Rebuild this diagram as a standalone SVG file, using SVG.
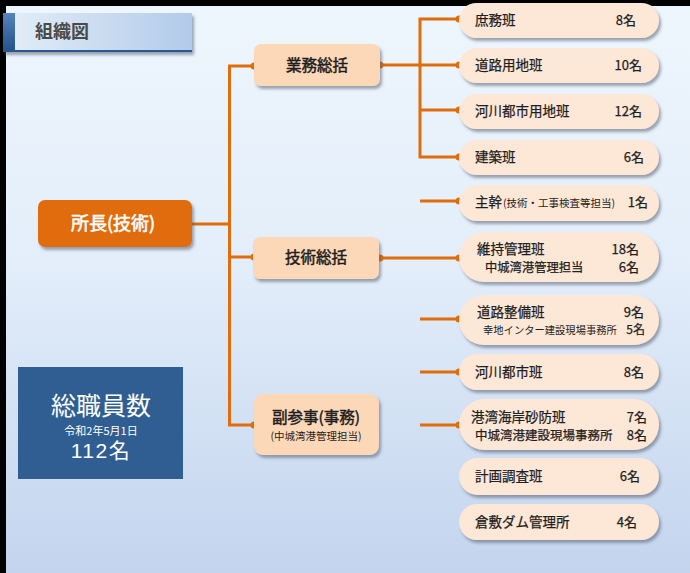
<svg xmlns="http://www.w3.org/2000/svg" width="690" height="573" viewBox="0 0 690 573">
<defs>
<linearGradient id="bg" x1="0" y1="0" x2="0" y2="1">
<stop offset="0" stop-color="#eef6fd"/>
<stop offset="0.45" stop-color="#e3eefa"/>
<stop offset="1" stop-color="#c3d4ee"/>
</linearGradient>
<linearGradient id="tg" x1="0" y1="0" x2="1" y2="0">
<stop offset="0" stop-color="#e4eef8"/>
<stop offset="1" stop-color="#b2cbea"/>
</linearGradient>
<linearGradient id="ts" x1="0" y1="0" x2="0" y2="1">
<stop offset="0" stop-color="#5583bd"/>
<stop offset="1" stop-color="#24508a"/>
</linearGradient>
<filter id="sh" x="-10%" y="-20%" width="125%" height="150%">
<feDropShadow dx="2" dy="3" stdDeviation="1.8" flood-color="#556070" flood-opacity="0.55"/>
</filter>
</defs>
<style>
.pill{fill:#fde7d6;filter:url(#sh)}
.mid{fill:#fdd8b8;filter:url(#sh)}
.ln{stroke:#e06c0a;stroke-width:3;fill:none}
.dot{fill:#e06c0a}
text{font-family:"Noto Sans CJK JP","Noto Sans",sans-serif;fill:#1e1e1e}
.t{font-size:13.5px;stroke:#1e1e1e;stroke-width:0.25px}
.n{font-size:13px;text-anchor:end;stroke:#1e1e1e;stroke-width:0.25px}
.s{font-size:10.3px}
.m{font-size:15.5px;text-anchor:middle;stroke:#1e1e1e;stroke-width:0.5px}
</style>
<rect x="0" y="0" width="690" height="573" fill="#000"/>
<rect x="6" y="6" width="684" height="567" fill="url(#bg)"/>

<g id="title">
<rect x="3" y="13" width="189" height="39" fill="url(#tg)" filter="url(#sh)"/>
<rect x="3" y="13" width="12" height="39" fill="url(#ts)"/>
<rect x="3" y="50" width="189" height="2" fill="#2a5790"/>
<text x="35" y="37.5" font-size="18" font-weight="bold" style="fill:#4a4a4a">組織図</text>
</g>

<g id="connectors">
<path class="ln" d="M192 224 H229.5 M229.5 66 V425.5 M228 66 H254 M228 257 H254 M228 425 H254"/>
<path class="ln" d="M380 65 H420 M420 17.5 V158.5 M418.5 19 H459 M418.5 65 H459 M418.5 110 H459 M418.5 157 H459"/>
<path class="ln" d="M420 201 H459 M380 258 H459 M420 319 H459 M420 372 H459 M420 425 H459"/>
<circle class="dot" cx="254" cy="66" r="3.5"/>
<circle class="dot" cx="380" cy="65" r="3.5"/>
<circle class="dot" cx="254" cy="257" r="3.5"/>
<circle class="dot" cx="380" cy="258" r="3.5"/>
<circle class="dot" cx="254" cy="425" r="3.5"/>
<circle class="dot" cx="459" cy="19" r="3.5"/>
<circle class="dot" cx="459" cy="65" r="3.5"/>
<circle class="dot" cx="459" cy="110" r="3.5"/>
<circle class="dot" cx="459" cy="157" r="3.5"/>
<circle class="dot" cx="459" cy="201" r="3.5"/>
<circle class="dot" cx="459" cy="258" r="3.5"/>
<circle class="dot" cx="459" cy="319" r="3.5"/>
<circle class="dot" cx="459" cy="372" r="3.5"/>
<circle class="dot" cx="459" cy="425" r="3.5"/>
</g>

<g id="root">
<rect x="38" y="200" width="154" height="47" rx="7" fill="#e06c0a" filter="url(#sh)"/>
<text x="113" y="230" font-size="18" text-anchor="middle" style="fill:#fff;stroke:#fff;stroke-width:0.6px">所長(技術)</text>
</g>

<g id="gyomu">
<rect class="mid" x="254" y="44" width="126" height="42" rx="7"/>
<text class="m" x="317" y="71">業務総括</text>
</g>
<g id="gijutsu">
<rect class="mid" x="253" y="237" width="126" height="42" rx="7"/>
<text class="m" x="316" y="263">技術総括</text>
</g>
<g id="fukusanji">
<rect class="mid" x="254" y="394" width="125" height="61" rx="9"/>
<text class="m" x="316" y="423">副参事(事務)</text>
<text x="316" y="440" font-size="10.5" text-anchor="middle">(中城湾港管理担当)</text>
</g>

<g id="total">
<rect x="18" y="367" width="165" height="112" fill="#305e92"/>
<text x="101" y="415" font-size="25" text-anchor="middle" style="fill:#fff">総職員数</text>
<text x="101" y="434.5" font-size="11" text-anchor="middle" style="fill:#fff">令和2年5月1日</text>
<text x="101" y="458" font-size="21" text-anchor="middle" style="fill:#fff;letter-spacing:1.5px;font-family:'Liberation Sans','Noto Sans CJK JP',sans-serif">112名</text>
</g>

<g id="shomu">
<rect class="pill" x="459" y="3" width="200" height="35" rx="17.5"/>
<text class="t" x="475" y="25">庶務班</text>
<text class="n" x="636" y="25">8名</text>
</g>
<g id="doroyochi">
<rect class="pill" x="459" y="48" width="200" height="35" rx="17.5"/>
<text class="t" x="475" y="70">道路用地班</text>
<text class="n" x="642" y="70">10名</text>
</g>
<g id="kasentoshiyochi">
<rect class="pill" x="459" y="94" width="200" height="35" rx="17.5"/>
<text class="t" x="475" y="116">河川都市用地班</text>
<text class="n" x="642" y="116">12名</text>
</g>
<g id="kenchiku">
<rect class="pill" x="459" y="140" width="200" height="35" rx="17.5"/>
<text class="t" x="475" y="162">建築班</text>
<text class="n" x="644" y="162">6名</text>
</g>
<g id="shukan">
<rect class="pill" x="459" y="185" width="200" height="36" rx="18"/>
<text class="t" x="475" y="207">主幹<tspan font-size="10.5" dx="1" style="stroke-width:0">(技術・工事検査等担当)</tspan></text>
<text class="n" x="648" y="207">1名</text>
</g>
<g id="iji">
<rect class="pill" x="459" y="232" width="200" height="50" rx="25"/>
<text class="t" x="477" y="254">維持管理班</text>
<text class="n" x="639" y="254">18名</text>
<text class="t" x="485" y="272" style="font-size:12.3px">中城湾港管理担当</text>
<text class="n" x="639" y="272">6名</text>
</g>
<g id="doroseibi">
<rect class="pill" x="459" y="295" width="200" height="50" rx="25"/>
<text class="t" x="477" y="317">道路整備班</text>
<text class="n" x="644" y="317">9名</text>
<text class="s" x="483" y="334">幸地インター建設現場事務所</text>
<text class="n" x="645" y="334" style="font-size:12px">5名</text>
</g>
<g id="kasentoshi">
<rect class="pill" x="459" y="354" width="200" height="36" rx="18"/>
<text class="t" x="475" y="377">河川都市班</text>
<text class="n" x="644" y="377">8名</text>
</g>
<g id="kowan">
<rect class="pill" x="459" y="399" width="200" height="51" rx="25.5"/>
<text class="t" x="471" y="422">港湾海岸砂防班</text>
<text class="n" x="647" y="422">7名</text>
<text class="t" x="475" y="440" style="font-size:12.5px">中城湾港建設現場事務所</text>
<text class="n" x="647" y="440">8名</text>
</g>
<g id="keikaku">
<rect class="pill" x="459" y="458" width="200" height="37" rx="18.5"/>
<text class="t" x="475" y="481">計画調査班</text>
<text class="n" x="640" y="481">6名</text>
</g>
<g id="kurashiki">
<rect class="pill" x="459" y="504" width="200" height="36" rx="18"/>
<text class="t" x="475" y="527">倉敷ダム管理所</text>
<text class="n" x="637" y="527">4名</text>
</g>
</svg>
